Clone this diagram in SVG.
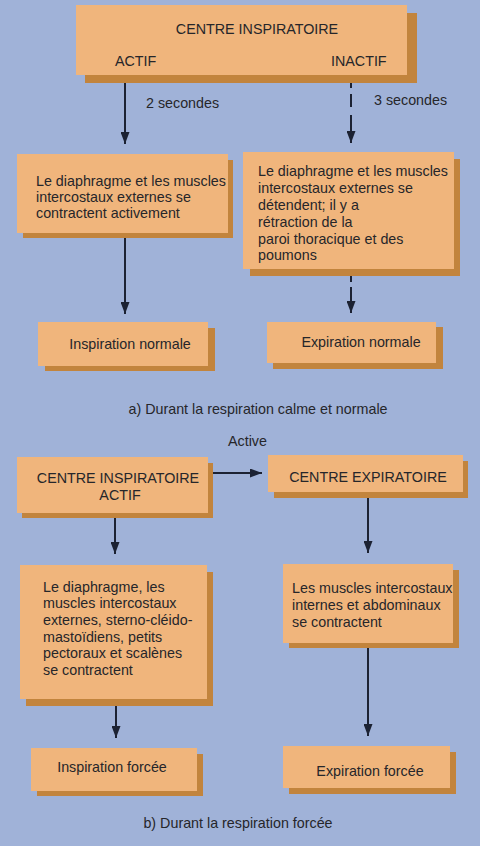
<svg xmlns="http://www.w3.org/2000/svg" width="480" height="846" viewBox="0 0 480 846">
<style>
.bg{fill:#a0b2d8}
.box{fill:#f0b57c}
.sh{fill:#c2843d}
text{font-family:"Liberation Sans",Arial,sans-serif;fill:#26262a;font-size:14.3px}
.ln{stroke:#1c2233;stroke-width:2;fill:none}
</style>
<defs>
<marker id="ah" viewBox="0 0 12 9" refX="12" refY="4.5" markerWidth="12" markerHeight="9" markerUnits="userSpaceOnUse" orient="auto">
<path d="M0,0 L12,4.5 L0,9 z" fill="#1c2233"/>
</marker>
</defs>
<rect class="bg" x="0" y="0" width="480" height="846"/>

<g id="connectors">
<line class="ln" x1="125" y1="77" x2="125" y2="144" marker-end="url(#ah)"/>
<line class="ln" x1="351" y1="76" x2="351" y2="88"/>
<line class="ln" x1="351" y1="94" x2="351" y2="107"/>
<line class="ln" x1="351" y1="115" x2="351" y2="143" marker-end="url(#ah)"/>
<line class="ln" x1="125" y1="238" x2="125" y2="314" marker-end="url(#ah)"/>
<line class="ln" x1="351" y1="276" x2="351" y2="282"/>
<line class="ln" x1="351" y1="287" x2="351" y2="313" marker-end="url(#ah)"/>
<line class="ln" x1="208" y1="473" x2="262" y2="473" marker-end="url(#ah)"/>
<line class="ln" x1="115" y1="518" x2="115" y2="554" marker-end="url(#ah)"/>
<line class="ln" x1="368" y1="498" x2="368" y2="553" marker-end="url(#ah)"/>
<line class="ln" x1="116" y1="706" x2="116" y2="738" marker-end="url(#ah)"/>
<line class="ln" x1="368" y1="648" x2="368" y2="736" marker-end="url(#ah)"/>
<text x="146" y="108">2 secondes</text>
<text x="374" y="105">3 secondes</text>
<text x="228" y="446">Active</text>
</g>

<g id="centre-inspiratoire">
<rect class="sh" x="85" y="13" width="332" height="70"/>
<rect class="box" x="76" y="5" width="331" height="70"/>
<text x="257" y="34" text-anchor="middle">CENTRE INSPIRATOIRE</text>
<text x="115" y="66">ACTIF</text>
<text x="331" y="66">INACTIF</text>
</g>

<g id="contraction">
<rect class="sh" x="23" y="160" width="210" height="78"/>
<rect class="box" x="17" y="154" width="211" height="79"/>
<text x="36" y="186">Le diaphragme et les muscles</text>
<text x="36" y="202">intercostaux externes se</text>
<text x="36" y="218">contractent activement</text>
</g>

<g id="detente">
<rect class="sh" x="250" y="159" width="210" height="117"/>
<rect class="box" x="243" y="152" width="211" height="117"/>
<text x="258" y="176">Le diaphragme et les muscles</text>
<text x="258" y="193">intercostaux externes se</text>
<text x="258" y="210">détendent; il y a</text>
<text x="258" y="227">rétraction de la</text>
<text x="258" y="244">paroi thoracique et des</text>
<text x="258" y="260">poumons</text>
</g>

<g id="inspiration-normale">
<rect class="sh" x="45" y="328" width="170" height="43"/>
<rect class="box" x="38" y="322" width="170" height="44"/>
<text x="130" y="349" text-anchor="middle">Inspiration normale</text>
</g>

<g id="expiration-normale">
<rect class="sh" x="273" y="327" width="170" height="42"/>
<rect class="box" x="267" y="322" width="169" height="41"/>
<text x="361" y="347" text-anchor="middle">Expiration normale</text>
</g>

<text x="258" y="414" text-anchor="middle">a) Durant la respiration calme et normale</text>

<g id="centre-inspiratoire-actif">
<rect class="sh" x="22" y="463" width="191" height="55"/>
<rect class="box" x="17" y="457" width="191" height="56"/>
<text x="118" y="483" text-anchor="middle">CENTRE INSPIRATOIRE</text>
<text x="120" y="500" text-anchor="middle">ACTIF</text>
</g>

<g id="centre-expiratoire">
<rect class="sh" x="274" y="461" width="194" height="37"/>
<rect class="box" x="268" y="455" width="195" height="37"/>
<text x="368" y="482" text-anchor="middle">CENTRE EXPIRATOIRE</text>
</g>

<g id="contraction-forcee">
<rect class="sh" x="26" y="572" width="187" height="134"/>
<rect class="box" x="20" y="565" width="187" height="134"/>
<text x="43" y="592">Le diaphragme, les</text>
<text x="43" y="608">muscles intercostaux</text>
<text x="43" y="625">externes, sterno-cléido-</text>
<text x="43" y="642">mastoïdiens, petits</text>
<text x="43" y="658">pectoraux et scalènes</text>
<text x="43" y="675">se contractent</text>
</g>

<g id="contraction-expiratoire">
<rect class="sh" x="289" y="570" width="170" height="78"/>
<rect class="box" x="283" y="564" width="170" height="79"/>
<text x="292" y="593">Les muscles intercostaux</text>
<text x="292" y="610">internes et abdominaux</text>
<text x="292" y="627">se contractent</text>
</g>

<g id="inspiration-forcee">
<rect class="sh" x="37" y="754" width="166" height="42"/>
<rect class="box" x="31" y="748" width="166" height="43"/>
<text x="112" y="772" text-anchor="middle">Inspiration forcée</text>
</g>

<g id="expiration-forcee">
<rect class="sh" x="289" y="752" width="167" height="42"/>
<rect class="box" x="283" y="746" width="167" height="42"/>
<text x="370" y="776" text-anchor="middle">Expiration forcée</text>
</g>

<text x="238" y="828" text-anchor="middle">b) Durant la respiration forcée</text>
</svg>
